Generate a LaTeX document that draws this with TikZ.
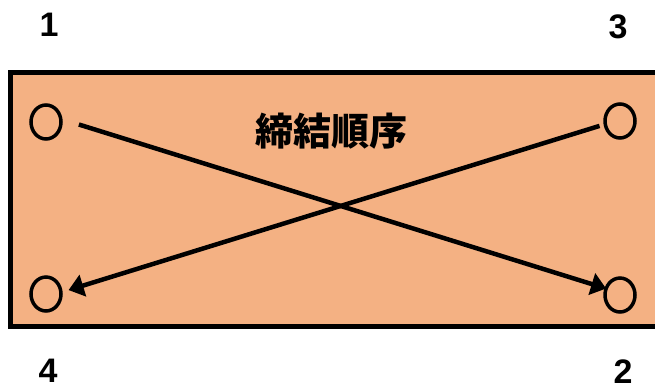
\documentclass[tikz,border=0pt]{standalone}
\usepackage{fontspec}
\setmainfont{Liberation Sans}
\newfontfamily\cjk{Noto Sans CJK JP}
\usetikzlibrary{shapes.geometric,arrows.meta}
\definecolor{plate}{HTML}{F4B183}

\begin{document}
\begin{tikzpicture}[x=1pt,y=-1pt,
	hole/.style={draw,ellipse,line width=3.5pt,inner sep=0,outer sep=0,minimum width=30pt,minimum height=34pt},
	num/.style={inner sep=0,font=\fontsize{34}{34}\selectfont\bfseries},
	link/.style={line width=4.5pt,-{Triangle[length=15pt,width=22pt]}}]
	\useasboundingbox (0,0) rectangle (655,391);
	\draw[line width=5pt,fill=plate] (10,72) rectangle (670,326);
	\node[hole] (1) at (46,122) {};
	\node[hole] (2) at (620,295) {};
	\node[hole] (3) at (620,121) {};
	\node[hole] (4) at (46,294) {};
	\node[num] (n1) at (49,25) {1};
	\node[num] (n2) at (623,372) {2};
	\node[num] (n3) at (618,27) {3};
	\node[num] (n4) at (48,371) {4};
	\node[inner sep=0,font=\cjk\fontsize{38}{38}\selectfont\bfseries] (t) at (331,131) {締結順序};
	\draw[link,shorten <=19pt] (1.12) -- (2.155);
	\draw[link,shorten <=6pt,shorten >=8pt] (3.192) -- (4.6);
\end{tikzpicture}
\end{document}
